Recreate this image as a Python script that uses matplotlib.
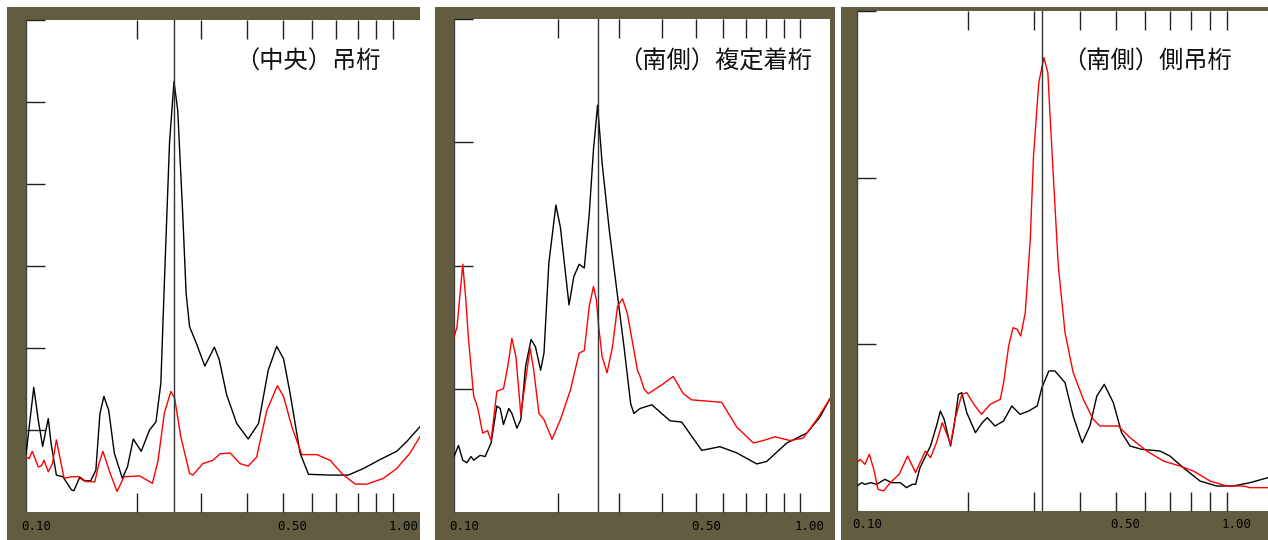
import numpy as np
import matplotlib.pyplot as plt
from matplotlib.patches import Rectangle
from matplotlib.transforms import ScaledTranslation

plt.rcParams['font.family'] = ['Noto Sans CJK JP', 'DejaVu Sans']

# panel 1 : (中央)吊桁
p1_black_x = [0.100, 0.105, 0.108, 0.111, 0.115, 0.117, 0.121, 0.126, 0.133, 0.135,
              0.140, 0.144, 0.150, 0.155, 0.159, 0.163, 0.168, 0.174, 0.183, 0.189,
              0.196, 0.206, 0.217, 0.226, 0.233, 0.238, 0.246, 0.253, 0.259, 0.267,
              0.273, 0.279, 0.291, 0.307, 0.326, 0.336, 0.352, 0.375, 0.403, 0.430,
              0.457, 0.482, 0.503, 0.524, 0.558, 0.588, 0.674, 0.755, 0.830, 0.922,
              1.023, 1.090, 1.184]
p1_black_y = [0.70, 1.52, 1.12, 0.80, 1.14, 0.84, 0.45, 0.43, 0.27, 0.26,
              0.42, 0.38, 0.38, 0.51, 1.20, 1.41, 1.24, 0.72, 0.41, 0.55,
              0.89, 0.74, 1.00, 1.10, 1.57, 2.75, 4.50, 5.25, 4.90, 3.68,
              2.67, 2.26, 2.06, 1.78, 2.01, 1.86, 1.43, 1.08, 0.89, 1.08,
              1.73, 2.02, 1.87, 1.45, 0.72, 0.46, 0.45, 0.45, 0.53, 0.64,
              0.74, 0.86, 1.04]
p1_red_x = [0.100, 0.102, 0.104, 0.108, 0.110, 0.112, 0.115, 0.118, 0.121, 0.123,
            0.127, 0.133, 0.140, 0.146, 0.154, 0.158, 0.162, 0.169, 0.177, 0.185,
            0.204, 0.221, 0.229, 0.238, 0.248, 0.254, 0.264, 0.279, 0.285, 0.303,
            0.323, 0.338, 0.360, 0.383, 0.403, 0.425, 0.453, 0.484, 0.503, 0.530,
            0.564, 0.620, 0.674, 0.725, 0.788, 0.848, 0.941, 1.023, 1.113, 1.184]
p1_red_y = [0.67, 0.65, 0.74, 0.55, 0.56, 0.63, 0.49, 0.59, 0.88, 0.72,
            0.41, 0.43, 0.43, 0.37, 0.37, 0.59, 0.74, 0.49, 0.25, 0.43,
            0.44, 0.35, 0.63, 1.20, 1.47, 1.39, 0.92, 0.47, 0.45, 0.59,
            0.63, 0.71, 0.72, 0.59, 0.56, 0.67, 1.24, 1.54, 1.41, 1.04,
            0.70, 0.70, 0.63, 0.47, 0.34, 0.34, 0.41, 0.53, 0.72, 0.92]

# panel 2 : (南側)複定着桁
p2_black_x = [0.100, 0.103, 0.106, 0.109, 0.112, 0.114, 0.119, 0.123, 0.128, 0.133,
              0.136, 0.139, 0.144, 0.147, 0.152, 0.156, 0.161, 0.167, 0.172, 0.178,
              0.182, 0.188, 0.197, 0.203, 0.215, 0.222, 0.230, 0.238, 0.246, 0.253,
              0.260, 0.268, 0.281, 0.297, 0.310, 0.324, 0.331, 0.345, 0.373, 0.421,
              0.455, 0.520, 0.587, 0.656, 0.750, 0.801, 0.916, 1.046, 1.142, 1.221]
p2_black_y = [0.45, 0.54, 0.42, 0.40, 0.45, 0.42, 0.46, 0.45, 0.56, 0.86,
              0.84, 0.71, 0.84, 0.80, 0.68, 0.75, 1.18, 1.40, 1.34, 1.15,
              1.29, 2.02, 2.49, 2.31, 1.68, 1.91, 2.01, 1.98, 2.42, 2.94,
              3.30, 2.83, 2.29, 1.75, 1.34, 0.88, 0.80, 0.84, 0.87, 0.74,
              0.73, 0.50, 0.53, 0.48, 0.39, 0.41, 0.56, 0.64, 0.77, 0.92]
p2_red_x = [0.100, 0.102, 0.105, 0.106, 0.108, 0.110, 0.114, 0.117, 0.121, 0.125,
            0.128, 0.133, 0.139, 0.143, 0.147, 0.151, 0.156, 0.161, 0.166, 0.170,
            0.176, 0.182, 0.192, 0.203, 0.217, 0.230, 0.238, 0.246, 0.253, 0.258,
            0.262, 0.268, 0.277, 0.287, 0.297, 0.307, 0.317, 0.339, 0.345, 0.354,
            0.364, 0.398, 0.430, 0.460, 0.486, 0.538, 0.594, 0.656, 0.733, 0.783,
            0.847, 0.936, 1.022, 1.118, 1.221]
p2_red_y = [1.42, 1.50, 1.88, 2.01, 1.75, 1.42, 0.94, 0.85, 0.64, 0.66,
            0.58, 0.98, 1.00, 1.18, 1.41, 1.26, 0.79, 1.07, 1.33, 1.15,
            0.80, 0.75, 0.59, 0.75, 0.99, 1.29, 1.31, 1.67, 1.83, 1.72,
            1.50, 1.26, 1.13, 1.34, 1.67, 1.73, 1.61, 1.15, 1.10, 1.00,
            0.96, 1.03, 1.10, 0.96, 0.91, 0.90, 0.89, 0.69, 0.56, 0.58,
            0.61, 0.58, 0.60, 0.75, 0.92]

# panel 3 : (南側)側吊桁
p3_black_x = [0.100, 0.103, 0.105, 0.109, 0.113, 0.119, 0.124, 0.131, 0.136, 0.141,
              0.144, 0.148, 0.158, 0.164, 0.168, 0.172, 0.179, 0.183, 0.188, 0.192,
              0.198, 0.209, 0.218, 0.225, 0.236, 0.249, 0.262, 0.276, 0.291, 0.307,
              0.316, 0.330, 0.343, 0.365, 0.384, 0.406, 0.426, 0.445, 0.466, 0.493,
              0.519, 0.547, 0.588, 0.659, 0.701, 0.762, 0.845, 0.938, 1.040, 1.154,
              1.291]
p3_black_y = [0.15, 0.17, 0.16, 0.17, 0.16, 0.19, 0.17, 0.17, 0.14, 0.16,
              0.16, 0.26, 0.39, 0.51, 0.60, 0.55, 0.39, 0.51, 0.70, 0.71,
              0.59, 0.47, 0.53, 0.56, 0.51, 0.54, 0.63, 0.58, 0.60, 0.63,
              0.74, 0.84, 0.84, 0.77, 0.57, 0.41, 0.51, 0.69, 0.76, 0.65,
              0.47, 0.39, 0.37, 0.36, 0.33, 0.26, 0.18, 0.15, 0.15, 0.17,
              0.20]
p3_red_x = [0.100, 0.102, 0.105, 0.108, 0.111, 0.114, 0.118, 0.123, 0.130, 0.137,
            0.144, 0.148, 0.153, 0.158, 0.164, 0.170, 0.175, 0.179, 0.184, 0.192,
            0.198, 0.207, 0.217, 0.229, 0.244, 0.249, 0.257, 0.264, 0.271, 0.277,
            0.285, 0.294, 0.300, 0.310, 0.320, 0.328, 0.332, 0.339, 0.350, 0.365,
            0.384, 0.409, 0.435, 0.454, 0.508, 0.547, 0.607, 0.673, 0.746, 0.811,
            0.900, 0.998, 1.107, 1.154, 1.291]
p3_red_y = [0.29, 0.31, 0.28, 0.34, 0.25, 0.13, 0.12, 0.17, 0.22, 0.33,
            0.23, 0.29, 0.36, 0.32, 0.41, 0.53, 0.46, 0.40, 0.55, 0.70,
            0.71, 0.64, 0.58, 0.64, 0.67, 0.77, 0.99, 1.10, 1.09, 1.05,
            1.19, 1.63, 2.13, 2.57, 2.72, 2.63, 2.40, 2.03, 1.47, 1.07,
            0.83, 0.67, 0.55, 0.51, 0.51, 0.44, 0.36, 0.30, 0.27, 0.24,
            0.18, 0.15, 0.15, 0.14, 0.14]

titles = ['（中央）吊桁', '（南側）複定着桁', '（南側）側吊桁']
peak_period = [0.253, 0.260, 0.316]
x_right = [1.184, 1.221, 1.291]
y_top = [6, 4, 3]
x_ticks = [0.2, 0.3, 0.4, 0.5, 0.6, 0.7, 0.8, 0.9, 1.0]
x_labels = {0.1: '0.10', 0.5: '0.50', 1.0: '1.00'}

W, H = 1268, 540
olive = '#625d40'

# layout in pixels: frame (x0, x1), axes (x0, x1, ytop, ybottom), title right edge
frames = [(7, 420), (435, 835), (841, 1268)]
boxes = [(26, 420, 20, 512), (454, 830, 19, 512), (857, 1268, 11, 511)]
title_right = [381, 812, 1232]

fig = plt.figure(figsize=(W / 100, H / 100), dpi=100)
fig.patch.set_facecolor('white')

series = [(p1_black_x, p1_black_y, p1_red_x, p1_red_y),
          (p2_black_x, p2_black_y, p2_red_x, p2_red_y),
          (p3_black_x, p3_black_y, p3_red_x, p3_red_y)]

for i in range(3):
    f0, f1 = frames[i]
    fig.patches.append(Rectangle((f0 / W, 0), (f1 - f0) / W, (H - 7) / H,
                                 transform=fig.transFigure, facecolor=olive,
                                 edgecolor='none', zorder=-5))
    x0, x1, yt, yb = boxes[i]
    ax = fig.add_axes([x0 / W, 1 - yb / H, (x1 - x0) / W, (yb - yt) / H])
    ax.set_zorder(2)
    ax.set_facecolor('white')
    bx, by, rx, ry = series[i]
    ax.plot(bx, by, color='black', lw=1.0, zorder=3)
    ax.plot(rx, ry, color='#ff0000', lw=1.0, zorder=3)
    ax.axvline(peak_period[i], color='#333333', lw=1.0, zorder=4)
    ax.set_xscale('log')
    ax.set_xlim(0.1, x_right[i])
    ax.set_ylim(0, y_top[i])
    ax.xaxis.set_minor_locator(plt.NullLocator())
    ax.set_xticks(x_ticks)
    ax.set_xticklabels([])
    ax.set_yticks(range(1, y_top[i] + 1))
    ax.set_yticklabels([])
    ax.tick_params(axis='x', which='both', direction='in', length=14, width=1,
                   color='#222222', top=True, bottom=True)
    ax.tick_params(axis='y', direction='in', length=14, width=1, color='#222222')
    for s in ['top', 'right', 'bottom']:
        ax.spines[s].set_visible(False)
    ax.spines['left'].set_color('#444444')
    ax.spines['left'].set_linewidth(1.0)

    trans = ax.get_xaxis_transform() + ScaledTranslation(-5 / 100, -14 / 100, fig.dpi_scale_trans)
    for xv, lab in x_labels.items():
        ax.text(xv, 0, lab, transform=trans, ha='left', va='center',
                fontsize=9, family='DejaVu Sans Mono', color='black', clip_on=False)

    ax.text(title_right[i] / W, 1 - 62 / H, titles[i], transform=fig.transFigure,
            ha='right', va='center', fontsize=17.5, color='#111111')

fig.savefig('out.png', dpi=100, facecolor='white')
